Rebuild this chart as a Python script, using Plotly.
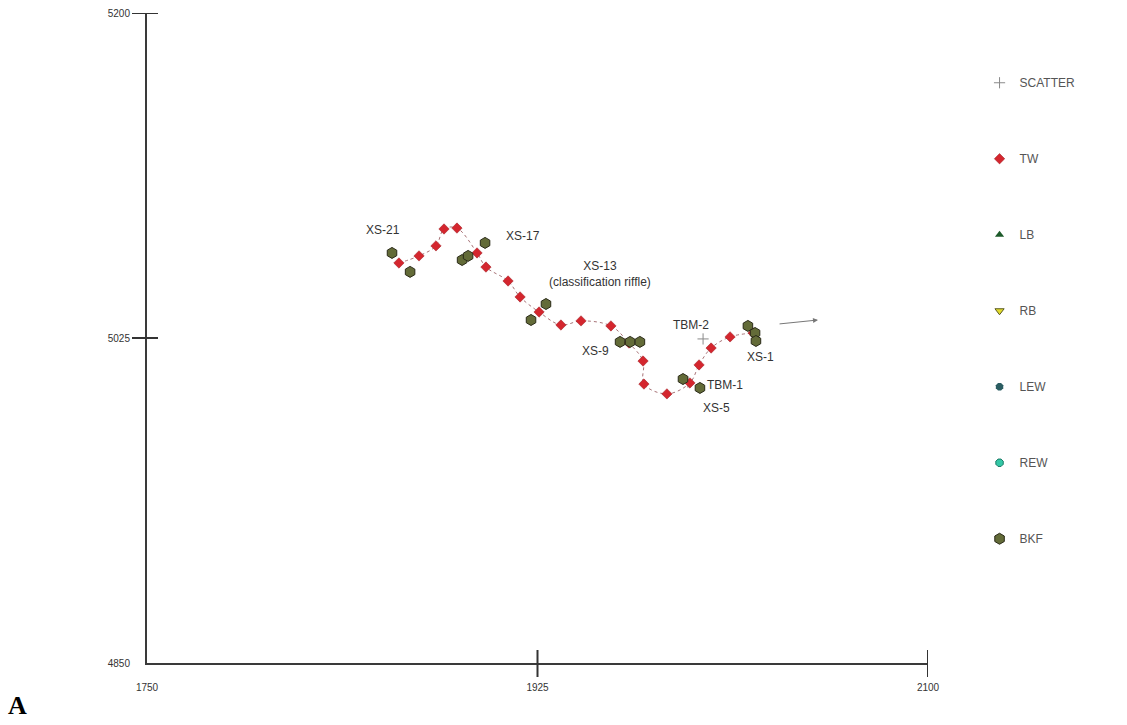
import plotly.graph_objects as go

# Thalweg (TW) survey points along the reach
tw_x = [1862.9, 1871.9, 1879.5, 1883.1, 1888.9, 1897.9, 1901.9, 1911.8, 1917.2, 1925.7,
        1935.5, 1944.5, 1957.9, 1966.0, 1972.3, 1972.7, 1983.0, 1993.3, 1997.4, 2002.8,
        2011.3, 2021.6]
tw_y = [5065.4, 5069.2, 5074.6, 5083.7, 5084.2, 5070.8, 5063.2, 5055.7, 5047.1, 5039.0,
        5032.0, 5034.2, 5031.5, 5022.3, 5012.6, 5000.2, 4994.9, 5000.8, 5010.5, 5019.6,
        5025.6, 5027.7]

# Bankfull (BKF) points at the cross sections
bkf_x = [1859.8, 1867.9, 1891.2, 1893.9, 1901.5, 1922.1, 1928.8, 1962.0, 1966.5, 1970.9,
         1990.2, 1997.8, 2019.3, 2022.5, 2022.9]
bkf_y = [5070.8, 5060.6, 5067.0, 5069.2, 5076.2, 5034.7, 5043.3, 5022.9, 5022.9, 5022.9,
         5002.9, 4998.1, 5031.5, 5027.7, 5023.4]

# Benchmarks (SCATTER)
scatter_x = [1999.2, 1992.4]
scatter_y = [5024.5, 5001.3]

# Bank / edge-of-water series (hidden beneath the bankfull marks)
lb_x, lb_y = [None], [None]
rb_x, rb_y = [None], [None]
lew_x, lew_y = [None], [None]
rew_x, rew_y = [None], [None]

# Station labels
label_text = ["XS-21", "XS-17", "XS-13<br>(classification riffle)", "XS-9",
              "TBM-2", "XS-1", "TBM-1", "XS-5"]
label_x = [1855.8, 1918.6, 1953.0, 1951.0, 1993.7, 2025.1, 2008.9, 2005.3]
label_y = [5083.2, 5080.0, 5059.5, 5018.0, 5032.0, 5014.7, 4999.9, 4987.5]

# Flow direction arrow (tail -> head)
flow_x = [2032.8, 2050.7]
flow_y = [5032.5, 5034.7]

x_ticks = [1750, 1925, 2100]
y_ticks = [4850, 5025, 5200]

fig = go.Figure()

fig.add_trace(go.Scatter(x=scatter_x, y=scatter_y, mode="markers", name="SCATTER",
                         legendgroup="a",
                         marker=dict(symbol="cross-thin", size=8,
                                     line=dict(color="#8a8a8a", width=1))))
# thalweg profile line, drawn under the markers
fig.add_trace(go.Scatter(x=tw_x, y=tw_y, mode="lines", showlegend=False, hoverinfo="skip",
                         line=dict(color="#a87478", width=1, dash="dot", shape="spline")))
fig.add_trace(go.Scatter(x=tw_x, y=tw_y, mode="markers", name="TW", legendgroup="b",
                         marker=dict(symbol="diamond", size=8, color="#d4262e",
                                     line=dict(color="#9a1a20", width=0.5))))
fig.add_trace(go.Scatter(x=lb_x, y=lb_y, mode="markers", name="LB", legendgroup="c",
                         marker=dict(symbol="triangle-up", size=8, color="#1d5a2a")))
fig.add_trace(go.Scatter(x=rb_x, y=rb_y, mode="markers", name="RB", legendgroup="d",
                         marker=dict(symbol="triangle-down", size=8, color="#e3dc2c",
                                     line=dict(color="#5a5a20", width=1))))
fig.add_trace(go.Scatter(x=lew_x, y=lew_y, mode="markers", name="LEW", legendgroup="e",
                         marker=dict(symbol="octagon", size=8, color="#2b5d62")))
fig.add_trace(go.Scatter(x=rew_x, y=rew_y, mode="markers", name="REW", legendgroup="f",
                         marker=dict(symbol="octagon", size=8, color="#33c7a6",
                                     line=dict(color="#1d7a66", width=1))))
fig.add_trace(go.Scatter(x=bkf_x, y=bkf_y, mode="markers", name="BKF", legendgroup="g",
                         marker=dict(symbol="hexagon", size=11, color="#636b38",
                                     line=dict(color="#2a2a18", width=1))))

for t, x, y in zip(label_text, label_x, label_y):
    fig.add_annotation(x=x, y=y, text=t, showarrow=False,
                       font=dict(family="Liberation Sans", size=12, color="#333333"))

fig.add_annotation(x=flow_x[1], y=flow_y[1], ax=flow_x[0], ay=flow_y[0],
                   axref="x", ayref="y", xref="x", yref="y", text="",
                   showarrow=True, arrowhead=2, arrowsize=1, arrowwidth=1,
                   arrowcolor="#777777")

# Tick marks crossing the axis lines
for v in y_ticks[1:]:
    fig.add_shape(type="line", xref="paper", yref="y", xsizemode="pixel", xanchor=0,
                  x0=-15, x1=11, y0=v, y1=v, line=dict(color="#333333", width=2))
for v in x_ticks[1:]:
    fig.add_shape(type="line", xref="x", yref="paper", ysizemode="pixel", yanchor=0,
                  y0=-14, y1=13, x0=v, x1=v, line=dict(color="#333333", width=2))

axis_common = dict(showgrid=False, zeroline=False, showline=True, linecolor="#3a3a3a",
                   linewidth=2, ticks="outside", tickcolor="rgba(0,0,0,0)",
                   tickfont=dict(family="Liberation Sans", size=10, color="#333333"))

fig.update_layout(
    width=1127, height=725,
    margin=dict(l=147, r=199, t=7, b=62),
    paper_bgcolor="white", plot_bgcolor="white",
    xaxis=dict(range=[1750, 2100], tickvals=x_ticks, ticklen=14, **axis_common),
    yaxis=dict(range=[4850, 5200], tickvals=y_ticks, ticklen=13, **axis_common),
    legend=dict(x=1.066, y=0.915, xanchor="left", yanchor="top",
                traceorder="grouped", tracegroupgap=57, itemwidth=30,
                font=dict(family="Liberation Sans", size=12, color="#555555"),
                bgcolor="rgba(0,0,0,0)"),
    title=dict(text="<b>A</b>", x=8 / 1127, xref="container", xanchor="left",
               y=1 - 705 / 725, yref="container", yanchor="middle",
               font=dict(family="Liberation Serif", size=26, color="black")),
)

fig.write_html("out.html")
